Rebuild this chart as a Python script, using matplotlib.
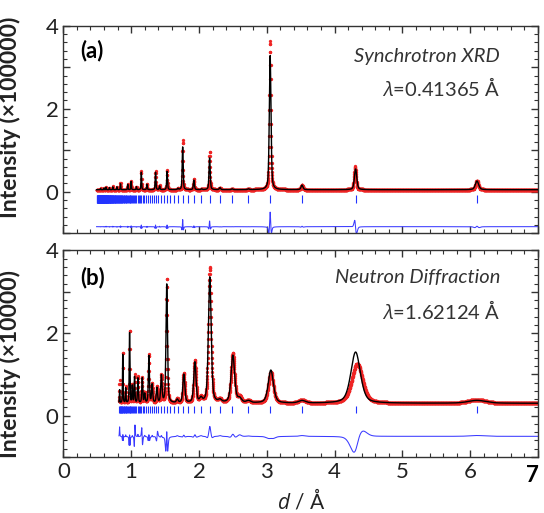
import numpy as np
import matplotlib.pyplot as plt
from matplotlib.ticker import MultipleLocator
from matplotlib.transforms import ScaledTranslation

plt.rcParams['font.family'] = ['Lato', 'DejaVu Sans']
plt.rcParams['mathtext.fontset'] = 'custom'
plt.rcParams['mathtext.it'] = 'Open Sans:italic'
plt.rcParams['mathtext.rm'] = 'Lato'

# ---- synchrotron XRD (intensity / 1e5) ----
xrd_start = 0.49
xrd_base = 0.05
xrd_pos = [0.55, 0.60, 0.63, 0.68, 0.73, 0.79, 0.843, 0.95, 1.00, 1.078, 1.15, 1.233,
           1.36, 1.42, 1.53, 1.69, 1.76, 1.925, 2.04, 2.157, 2.31, 2.49, 2.73,
           3.05, 3.52, 4.31, 6.10]
xrd_obs = [0.08, 0.09, 0.12, 0.10, 0.13, 0.12, 0.22, 0.19, 0.27, 0.12, 0.51, 0.19,
           0.51, 0.15, 0.53, 0.08, 1.25, 0.30, 0.07, 0.96, 0.10, 0.07, 0.07,
           3.63, 0.17, 0.61, 0.27]
xrd_calc = [0.08, 0.09, 0.11, 0.10, 0.12, 0.12, 0.20, 0.18, 0.25, 0.12, 0.47, 0.18,
            0.47, 0.14, 0.49, 0.08, 1.08, 0.28, 0.07, 0.82, 0.10, 0.07, 0.07,
            3.28, 0.16, 0.55, 0.26]
xrd_obs_width = {3.05: 0.88}
xrd_obs_shift = {4.31: -0.008}
xrd_diff_offset = -0.84
xrd_tick_span = (-0.26, -0.08)

# ---- neutron diffraction (intensity / 1e4) ----
neu_start = 0.82
neu_base = 0.30
neu_pos = [0.830, 0.877, 0.92, 0.977, 1.017, 1.05, 1.10, 1.164, 1.20, 1.262, 1.31,
           1.38, 1.446, 1.525, 1.68, 1.777, 1.94, 2.03, 2.16, 2.31, 2.50, 2.60,
           2.73, 3.06, 3.52, 4.31, 6.10]
neu_obs = [0.85, 1.58, 0.70, 2.10, 0.75, 0.98, 0.95, 0.93, 0.55, 1.48, 0.77,
           0.69, 0.98, 3.31, 0.40, 1.02, 1.32, 0.42, 3.59, 0.38, 1.50, 0.44,
           0.36, 1.05, 0.38, 1.26, 0.39]
neu_calc = [0.62, 1.52, 0.66, 2.04, 0.72, 0.93, 0.90, 0.90, 0.52, 1.44, 0.74,
            0.66, 0.95, 3.19, 0.38, 0.99, 1.28, 0.40, 3.35, 0.36, 1.45, 0.40,
            0.35, 1.10, 0.36, 1.54, 0.37]
neu_obs_width = {4.31: 1.12, 0.977: 0.8, 1.525: 0.8, 0.877: 0.85, 1.262: 0.85}
neu_obs_shift = {4.31: 0.025, 1.05: 0.004, 1.164: -0.004, 1.38: 0.005}
neu_diff_offset = -0.50
neu_tick_span = (0.06, 0.23)

# reflection markers, same cell for both patterns
a_cell = 6.10
n_refl = np.arange(1, 150)


def pseudo_voigt(x, pos, amp, fwhm, eta=0.45):
    u = (x - pos) / fwhm
    gauss = np.exp(-4 * np.log(2) * u ** 2)
    lor = 1.0 / (1.0 + 4 * u ** 2)
    return amp * (eta * lor + (1 - eta) * gauss)


def profile(x, base, pos, tops, width, wscale=1.0, widths=None, shifts=None):
    y = np.full_like(x, base)
    for p, t in zip(pos, tops):
        dp = shifts.get(p, 0.0) if shifts else 0.0
        ws = widths.get(p, wscale) if widths else wscale
        y += pseudo_voigt(x, p + dp, t - base, width(p) * ws)
    return y


def style_axes(ax):
    ax.set_xlim(0, 7)
    ax.set_ylim(-1, 4)
    ax.xaxis.set_major_locator(MultipleLocator(1))
    ax.xaxis.set_minor_locator(MultipleLocator(0.2))
    ax.yaxis.set_major_locator(MultipleLocator(1))
    ax.yaxis.set_minor_locator(MultipleLocator(0.2))
    ax.yaxis.set_major_formatter(lambda v, p: f'{v:.0f}' if int(round(v)) % 2 == 0 else '')
    ax.tick_params(which='both', direction='in', top=True, right=True,
                   colors='#333333', labelcolor='#222222', labelsize=16)
    ax.tick_params(which='major', length=5, width=1)
    ax.tick_params(which='minor', length=3, width=0.8)
    for s in ax.spines.values():
        s.set_color('#333333')
        s.set_linewidth(1.0)


def draw_pattern(ax, x, obs, calc, offset, ticks, tick_span):
    ax.plot(x, obs, 'o', color='#ef2424', ms=2.4, mew=0, zorder=2)
    ax.plot(x, calc, '-', color='black', lw=1.0, zorder=3)
    ax.vlines(ticks, tick_span[0], tick_span[1], color='#2233ff', lw=0.8, zorder=2)
    ax.plot(x, obs - calc + offset, '-', color='#3a3aff', lw=0.75, zorder=2)


fig = plt.figure(figsize=(5.44, 5.13), dpi=100)
ax_a = fig.add_axes([0.1164, 0.5452, 0.8726, 0.4047])
ax_b = fig.add_axes([0.1164, 0.1092, 0.8726, 0.4025])

refl_d = a_cell / np.sqrt(n_refl)

# panel (a)
x_a = np.arange(xrd_start, 7.0, 0.002)
w_a = lambda d: 0.0095 * d
obs_a = profile(x_a, xrd_base, xrd_pos, xrd_obs, w_a, 0.82, xrd_obs_width, xrd_obs_shift)
calc_a = profile(x_a, xrd_base, xrd_pos, xrd_calc, w_a)
draw_pattern(ax_a, x_a, obs_a, calc_a, xrd_diff_offset,
             refl_d[refl_d >= xrd_start], xrd_tick_span)
style_axes(ax_a)
ax_a.tick_params(labelbottom=False)

# panel (b)
x_b = np.arange(neu_start, 7.0, 0.002)
w_b = lambda d: 0.012 * d ** 1.8
obs_b = profile(x_b, neu_base, neu_pos, neu_obs, w_b, 0.95, neu_obs_width, neu_obs_shift)
calc_b = profile(x_b, neu_base, neu_pos, neu_calc, w_b)
draw_pattern(ax_b, x_b, obs_b, calc_b, neu_diff_offset,
             refl_d[refl_d >= neu_start], neu_tick_span)
style_axes(ax_b)
ax_b.set_xticks(range(8), labels=[str(i) for i in range(8)])
last = ax_b.get_xticklabels()[-1]
last.set_fontweight('bold')
last.set_color('black')
last.set_transform(last.get_transform() + ScaledTranslation(-4 / 72, -2 / 72, fig.dpi_scale_trans))
ax_b.set_xlabel(r'$d$ / Å', fontsize=15, color='#222222', labelpad=1)

# y labels
ax_a.set_ylabel('Intensity (×100000)', fontsize=16.5, fontweight='bold', color='#222222')
ax_a.yaxis.set_label_coords(-0.09, 0.56)
ax_b.set_ylabel('Intensity (×10000)', fontsize=16.5, fontweight='bold', color='#222222')
ax_b.yaxis.set_label_coords(-0.09, 0.45)

# panel annotations
for ax, tag, title, lam, ys in [
        (ax_a, '(a)', 'Synchrotron XRD', r'$\lambda$=0.41365 Å', (0.88, 0.85, 0.70)),
        (ax_b, '(b)', 'Neutron Diffraction', r'$\lambda$=1.62124 Å', (0.87, 0.87, 0.71))]:
    ax.text(0.035, ys[0], tag, transform=ax.transAxes, fontsize=16,
            fontweight='bold', color='black', va='center', ha='left')
    ax.text(0.92, ys[1], title, transform=ax.transAxes, fontsize=14.5,
            style='italic', color='#333333', va='center', ha='right')
    ax.text(0.92, ys[2], lam, transform=ax.transAxes, fontsize=14.5,
            color='#333333', va='center', ha='right')

fig.savefig('out.png', dpi=100)
